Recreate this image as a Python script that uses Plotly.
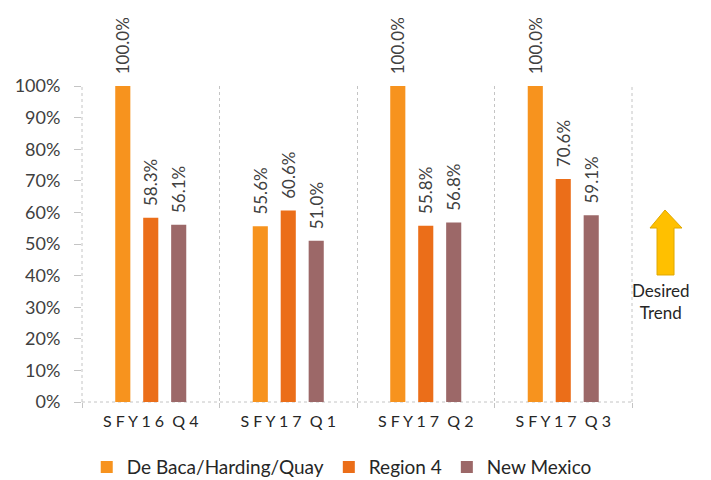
import plotly.graph_objects as go

# quarters (shown letter-spaced like the original)
quarters = ["S F Y 1 6  Q 4", "S F Y 1 7  Q 1", "S F Y 1 7  Q 2", "S F Y 1 7  Q 3"]

series_names = ["De Baca/Harding/Quay", "Region 4", "New Mexico"]
debaca = [1.000, 0.556, 1.000, 1.000]
region4 = [0.583, 0.606, 0.558, 0.706]
new_mexico = [0.561, 0.510, 0.568, 0.591]
series_colors = ["#F7931E", "#EB6E19", "#9C6868"]

y_ticks = [i / 10 for i in range(11)]

font_name = "Lato, Noto Sans, sans-serif"
line_grey = "#C4C4C4"
pad = "\u00a0\u00a0"  # pushes the value labels a bit further above the bars

fig = go.Figure()
for name, vals, col in zip(series_names, [debaca, region4, new_mexico], series_colors):
    fig.add_trace(go.Bar(
        x=quarters, y=vals, name=name,
        marker=dict(color=col, line=dict(width=0)),
        text=[f"{pad}{v*100:.1f}%" for v in vals],
        textposition="outside", textangle=-90, constraintext="none",
        textfont=dict(size=17, color="#404040", family=font_name),
        cliponaxis=False,
    ))

# dotted frame lines (left, right, bottom) like the original
for x0, y0, x1, y1 in [(0, 0, 0, 1), (1, 0, 1, 1), (0, 0, 1, 0)]:
    fig.add_shape(type="line", xref="x domain", yref="y domain", x0=x0, y0=y0, x1=x1, y1=y1,
                  line=dict(color=line_grey, width=1, dash="dot"), layer="below")

# "Desired Trend" arrow to the right of the plot
fig.add_shape(type="path", xref="paper", yref="paper",
              path="M 1.0600 0.6076 L 1.0909 0.5506 L 1.0764 0.5506 L 1.0764 0.4019 "
                   "L 1.0455 0.4019 L 1.0455 0.5506 L 1.0327 0.5506 Z",
              fillcolor="#FFC000", line=dict(color="#E0A800", width=1))
fig.add_annotation(xref="paper", yref="paper", x=1.0527, y=0.3165,
                   xanchor="center", yanchor="middle",
                   text="Desired<br>Trend", showarrow=False, align="center",
                   font=dict(size=17, color="#262626", family=font_name))

fig.update_layout(
    width=711, height=480,
    margin=dict(l=82, r=79, t=86, b=78, autoexpand=False),
    paper_bgcolor="white", plot_bgcolor="white",
    barmode="group", bargap=0.39, bargroupgap=0.46,
    font=dict(family=font_name, color="#404040"),
    showlegend=True,
    legend=dict(orientation="h", xref="container", yref="container",
                x=0.122, xanchor="left", y=0.027, yanchor="middle",
                font=dict(size=19, color="#262626"), itemwidth=30, traceorder="normal"),
)
fig.update_xaxes(
    tickson="boundaries", showgrid=True, gridcolor=line_grey, griddash="dot", gridwidth=1,
    showline=False, ticks="outside", ticklen=5, tickcolor=line_grey, ticklabelstandoff=8,
    tickfont=dict(size=16, color="#262626"), range=[-0.5, 3.5], automargin=False,
)
fig.update_yaxes(
    range=[0, 1], tickvals=y_ticks, tickformat=".0%", showgrid=False, zeroline=False,
    showline=False, ticks="outside", ticklen=7, tickcolor=line_grey, ticklabelstandoff=10,
    tickfont=dict(size=18, color="#404040"), automargin=False,
)

# the page body has a default 8px margin; drop it so the chart sits at the window's corner
fig.write_html("out.html", config={"displayModeBar": False},
               post_script="document.body.style.margin='0';")
